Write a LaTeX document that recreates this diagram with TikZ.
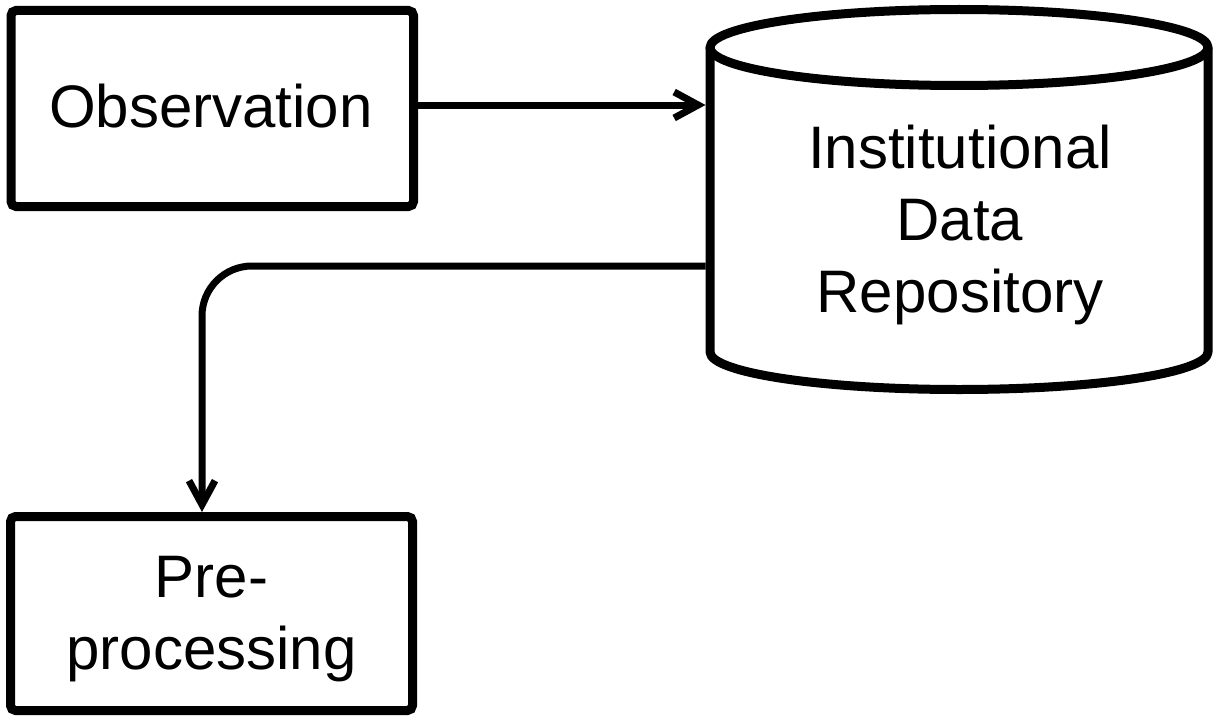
\documentclass[tikz,border=0pt]{standalone}
\usepackage{fontspec}
\setmainfont{Liberation Sans}
\usetikzlibrary{arrows.meta}
\begin{document}
\begin{tikzpicture}[x=1pt,y=1pt,
  box/.style={draw, line width=9pt, rounded corners=5pt, inner sep=0pt},
  cyl/.style={draw, line width=9pt, line join=round},
  conn/.style={draw, line width=7pt, -{Straight Barb[length=24pt,width=26pt]}},
  lbl/.style={inner sep=0pt, align=center, font=\fontsize{60}{72}\selectfont}]
\useasboundingbox (0,0) rectangle (1216,-717);

% process boxes
\node[box, minimum width=402.5pt, minimum height=196pt] (obs) at (212.25,-108.5) {};
\node[box, minimum width=402pt, minimum height=194pt] (pre) at (211.5,-613.5) {};
\node[lbl] (obstext) at (211,-106.3) {Observation};
\node[lbl] (pretext) at (211.5,-618.8) {Pre-\\processing};

% data store cylinder
\draw[cyl] (710,-47.5) -- (710,-352)
  arc[start angle=180, end angle=360, x radius=249, y radius=37.5]
  -- (1208,-47.5);
\draw[cyl] (959,-47.5) ellipse[x radius=249, y radius=38];
\node[inner sep=0pt, outer sep=0pt, minimum width=507pt, minimum height=304.5pt] (repo) at (959,-199.75) {};
\node[lbl] (repotext) at (960,-225.3) {Institutional\\Data\\Repository};

% connectors
\path ([yshift=3.5pt]obs.east) coordinate (o1);
\draw[conn] (o1) -- (o1 -| repo.west);
\path (repo.west |- 0,-266) coordinate (r2);
\path ([xshift=-9.5pt]pre.north) coordinate (p2);
\draw[conn, rounded corners=50pt] (r2) -| (p2);
\end{tikzpicture}
\end{document}
